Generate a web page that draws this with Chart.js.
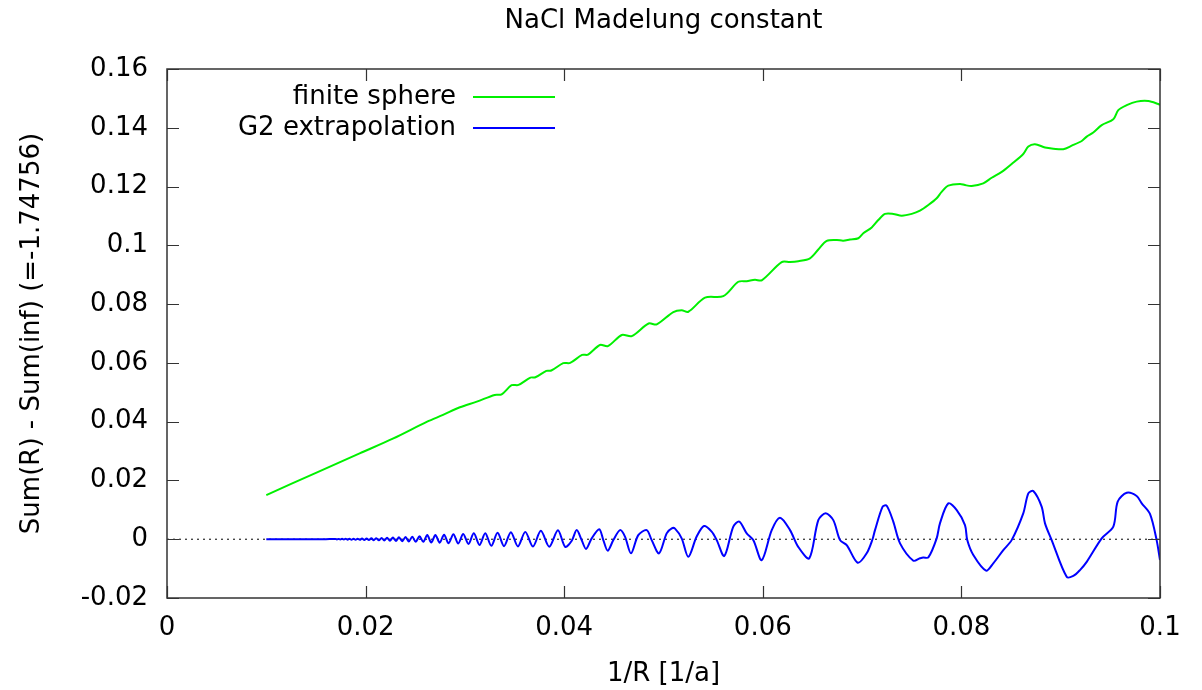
<!DOCTYPE html>
<html>
<head>
  <meta charset="utf-8">
  <title>NaCl Madelung constant</title>
  <script src="https://cdn.jsdelivr.net/npm/chart.js@4.4.1/dist/chart.umd.min.js"></script>
  <style>
    body { margin: 0; background: #fff; }
  </style>
</head>
<body>
  <canvas id="chart" width="1202" height="690"></canvas>

<script>
  // values
  const sphereX = [
    0.0100, 0.0150, 0.0194, 0.0228, 0.0262, 0.0278, 0.0295, 0.0312, 0.0330, 0.0337,
    0.0347, 0.0354, 0.0366, 0.0371, 0.0382, 0.0387, 0.0399, 0.0406, 0.0418, 0.0424,
    0.0436, 0.0444, 0.0458, 0.0468, 0.0485, 0.04932, 0.05099, 0.05183, 0.05250, 0.05418,
    0.05602, 0.05753, 0.05838, 0.05921, 0.05989, 0.06190, 0.06274, 0.06357, 0.06475, 0.06559,
    0.06644, 0.06745, 0.06810, 0.06878, 0.06962, 0.07012, 0.07097, 0.07163, 0.07231, 0.07314,
    0.07399, 0.07500, 0.07583, 0.07667, 0.07751, 0.07801, 0.07868, 0.07986, 0.08036, 0.08103,
    0.08220, 0.08305, 0.08406, 0.08506, 0.08623, 0.08674, 0.08741, 0.08842, 0.08926, 0.09026,
    0.09111, 0.09212, 0.09262, 0.09328, 0.09413, 0.09530, 0.09580, 0.09665, 0.09765, 0.09882,
    0.09983, 0.10000
  ];
  const sphereY = [
    0.0150, 0.0226, 0.0292, 0.0343, 0.0400, 0.0423, 0.0449, 0.0468, 0.0491, 0.0493,
    0.0524, 0.0525, 0.0550, 0.0551, 0.0573, 0.0574, 0.0599, 0.0600, 0.0627, 0.0628,
    0.0661, 0.0657, 0.0695, 0.0691, 0.0734, 0.0731, 0.0773, 0.0779, 0.0774, 0.0822,
    0.0827, 0.0876, 0.0878, 0.0883, 0.0881, 0.0943, 0.0943, 0.0946, 0.0956, 0.0986,
    0.1015, 0.1018, 0.1016, 0.1020, 0.1024, 0.1041, 0.1061, 0.1086, 0.1107, 0.1107,
    0.1101, 0.1107, 0.1118, 0.1137, 0.1160, 0.1182, 0.1203, 0.1209, 0.1205, 0.1202,
    0.1211, 0.1230, 0.1250, 0.1277, 0.1311, 0.1336, 0.1344, 0.1333, 0.1329, 0.1327,
    0.1339, 0.1355, 0.1370, 0.1384, 0.1409, 0.1429, 0.1460, 0.1477, 0.1489, 0.1491,
    0.1481, 0.1478
  ];

  const g2X = [
    0.0100, 0.0130, 0.0160,
    0.01694, 0.01711, 0.01728, 0.01745, 0.01763, 0.01781, 0.01800, 0.01819, 0.01838, 0.01858,
    0.01878, 0.01899, 0.01920, 0.01942, 0.01964, 0.01987, 0.02010, 0.02033, 0.02058, 0.02082,
    0.02108, 0.02134, 0.02161, 0.02188, 0.02216, 0.02245, 0.02275, 0.02305, 0.02336, 0.02369,
    0.02402, 0.02435, 0.02470, 0.02505, 0.02543, 0.02581, 0.02621, 0.02661, 0.02703, 0.02746,
    0.02790, 0.02836, 0.02884, 0.02933, 0.02983, 0.03036, 0.03090, 0.03147, 0.03205, 0.03266,
    0.03329, 0.03394, 0.03463, 0.03534, 0.03608, 0.03685, 0.03765, 0.03849, 0.03937, 0.04010,
    0.04076, 0.04126, 0.04176, 0.04220, 0.04277, 0.04353, 0.04394, 0.04438, 0.04495, 0.04562,
    0.04612, 0.04673, 0.04746, 0.04831, 0.04881, 0.04955, 0.05032, 0.05083, 0.05116, 0.05183,
    0.05250, 0.05334, 0.05408, 0.05485, 0.05536, 0.05612, 0.05703, 0.05763, 0.05838, 0.05904,
    0.05989, 0.06090, 0.06173, 0.06274, 0.06357, 0.06468, 0.06559, 0.06633, 0.06710, 0.06778,
    0.06845, 0.06956, 0.07046, 0.07105, 0.07130, 0.07207, 0.07248, 0.07314, 0.07382, 0.07516,
    0.07583, 0.07616, 0.07667, 0.07751, 0.07784, 0.07868, 0.07953, 0.08036, 0.08059, 0.08120,
    0.08248, 0.08321, 0.08422, 0.08506, 0.08623, 0.08674, 0.08724, 0.08808, 0.08842, 0.08909,
    0.09060, 0.09127, 0.09194, 0.09262, 0.09413, 0.09530, 0.09574, 0.09665, 0.09765, 0.09816,
    0.09899, 0.09966, 0.10000
  ];
  const g2Y = [
    0, 0, 0.00003,
    0.00010, -0.00010, 0.00011, -0.00011, 0.00012, -0.00012, 0.00013, -0.00014, 0.00015, -0.00016,
    0.00017, -0.00018, 0.00020, -0.00021, 0.00023, -0.00024, 0.00027, -0.00028, 0.00031, -0.00033,
    0.00036, -0.00038, 0.00042, -0.00044, 0.00048, -0.00051, 0.00056, -0.00059, 0.00064, -0.00068,
    0.00073, -0.00078, 0.00083, -0.00088, 0.00100, -0.00090, 0.00140, -0.00115, 0.00140, -0.00120,
    0.00150, -0.00140, 0.00170, -0.00145, 0.00180, -0.00160, 0.00200, -0.00195, 0.00205, -0.00225,
    0.00220, -0.00235, 0.00240, -0.00245, 0.00250, -0.00250, 0.00285, -0.00255, 0.00305, -0.00260,
    -0.0005, 0.0031, -0.0003, -0.0033, 0.0003, 0.0034, -0.0003, -0.0039, -0.0003, 0.0031,
    0.0009, -0.0048, 0.0014, 0.0031, -0.0003, -0.0048, 0.0020, 0.0037, 0.0036, 0.0003,
    -0.0060, 0.0009, 0.0045, 0.0026, -0.0003, -0.0057, 0.0043, 0.0060, 0.0020, -0.0003,
    -0.0071, 0.0031, 0.0073, 0.0031, -0.0026, -0.0065, 0.0065, 0.0088, 0.0065, -0.0003,
    -0.0020, -0.0080, -0.0048, 0.0000, 0.0031, 0.0111, 0.0114, 0.0060, -0.0014, -0.0073,
    -0.0065, -0.0062, -0.0062, 0.0003, 0.0054, 0.0122, 0.0099, 0.0048, -0.0003, -0.0054,
    -0.0107, -0.0082, -0.0037, -0.0003, 0.0088, 0.0156, 0.0164, 0.0111, 0.0054, -0.0003,
    -0.0128, -0.0125, -0.0105, -0.0077, 0.0003, 0.0043, 0.0128, 0.0158, 0.0147, 0.0122,
    0.0086, -0.0003, -0.0071
  ];

  const zeroX = [0, 0.1];
  const zeroY = [0, 0];

  const xTickValues = [0, 0.02, 0.04, 0.06, 0.08, 0.1];
  const xTickLabels = ['0', '0.02', '0.04', '0.06', '0.08', '0.1'];
  const yTickValues = [-0.02, 0, 0.02, 0.04, 0.06, 0.08, 0.1, 0.12, 0.14, 0.16];
  const yTickLabels = ['-0.02', '0', '0.02', '0.04', '0.06', '0.08', '0.1', '0.12', '0.14', '0.16'];

  const titleText = 'NaCl Madelung constant';
  const FONT = 'DejaVu Sans';
  const TICK = 12;

  function toPoints(xs, ys) {
    return xs.map((x, i) => ({ x: x, y: ys[i] }));
  }

  // gnuplot look: box border, inward mirrored ticks, title, key on the left
  const gnuplotFrame = {
    id: 'gnuplotFrame',
    afterDatasetsDraw(chart) {
      const { ctx, chartArea: a, scales: { x, y } } = chart;
      ctx.save();
      ctx.strokeStyle = '#333';
      ctx.lineWidth = 1.2;
      ctx.beginPath();
      x.ticks.forEach(t => {
        const px = Math.round(x.getPixelForValue(t.value)) + 0.5;
        ctx.moveTo(px, a.bottom); ctx.lineTo(px, a.bottom - TICK);
        ctx.moveTo(px, a.top); ctx.lineTo(px, a.top + TICK);
      });
      y.ticks.forEach(t => {
        const py = Math.round(y.getPixelForValue(t.value)) + 0.5;
        ctx.moveTo(a.left, py); ctx.lineTo(a.left + TICK, py);
        ctx.moveTo(a.right, py); ctx.lineTo(a.right - TICK, py);
      });
      ctx.stroke();
      ctx.lineWidth = 1.5;
      ctx.strokeRect(a.left, a.top, a.right - a.left, a.bottom - a.top);

      ctx.fillStyle = '#000';
      ctx.font = '26px "' + FONT + '"';
      ctx.textAlign = 'center';
      ctx.textBaseline = 'middle';
      ctx.fillText(titleText, (a.left + a.right) / 2, 21);

      // key
      ctx.textAlign = 'right';
      let row = 0;
      chart.data.datasets.forEach(ds => {
        if (!ds.label) return;
        const ty = a.top + 28 + row * 31;
        ctx.fillStyle = '#000';
        ctx.fillText(ds.label, a.left + 289, ty);
        ctx.strokeStyle = ds.borderColor;
        ctx.lineWidth = 2;
        ctx.beginPath();
        ctx.moveTo(a.left + 306, ty);
        ctx.lineTo(a.left + 388, ty);
        ctx.stroke();
        row++;
      });
      ctx.restore();
    }
  };

  const data = {
    datasets: [
      {
        label: 'finite sphere',
        data: toPoints(sphereX, sphereY),
        borderColor: 'rgb(0, 240, 0)',
        borderWidth: 2,
        tension: 0.3,
      },
      {
        label: 'G2 extrapolation',
        data: toPoints(g2X, g2Y),
        borderColor: 'rgb(0, 0, 255)',
        borderWidth: 2,
        tension: 0.3,
      },
      {
        label: '',
        data: toPoints(zeroX, zeroY),
        borderColor: '#000',
        borderWidth: 1,
        borderDash: [2, 4],
        order: 1,
      },
    ]
  };

  const options = {
    responsive: false,
    animation: false,
    events: [],
    showLine: true,
    elements: { point: { radius: 0 } },
    layout: { padding: { top: 69, right: 42, bottom: 0, left: 0 } },
    plugins: {
      legend: { display: false },
      title: { display: false },
      tooltip: { enabled: false },
    },
    scales: {
      x: {
        type: 'linear',
        min: 0,
        max: 0.1,
        grid: { display: false, drawTicks: false },
        border: { display: false },
        afterBuildTicks: s => { s.ticks = xTickValues.map(v => ({ value: v })); },
        afterFit: s => { s.height = 92; },
        ticks: {
          padding: 15,
          color: '#000',
          font: { family: FONT, size: 26 },
          maxRotation: 0,
          callback: (v, i) => xTickLabels[i],
        },
        title: {
          display: true,
          text: '1/R [1/a]',
          color: '#000',
          font: { family: FONT, size: 26 },
          padding: { top: 0, bottom: 0 },
        },
      },
      y: {
        type: 'linear',
        min: -0.02,
        max: 0.16,
        grid: { display: false, drawTicks: false },
        border: { display: false },
        afterBuildTicks: s => { s.ticks = yTickValues.map(v => ({ value: v })); },
        afterFit: s => { s.width = 167; },
        ticks: {
          padding: 19,
          color: '#000',
          font: { family: FONT, size: 26 },
          callback: (v, i) => yTickLabels[i],
        },
        title: {
          display: true,
          text: 'Sum(R) - Sum(inf) (=-1.74756)',
          color: '#000',
          font: { family: FONT, size: 26 },
          padding: { top: 17, bottom: 0 },
        },
      },
    },
  };

  new Chart(document.getElementById('chart'), {
    type: 'scatter',
    data: data,
    options: options,
    plugins: [gnuplotFrame],
  });
</script>
</body>
</html>
